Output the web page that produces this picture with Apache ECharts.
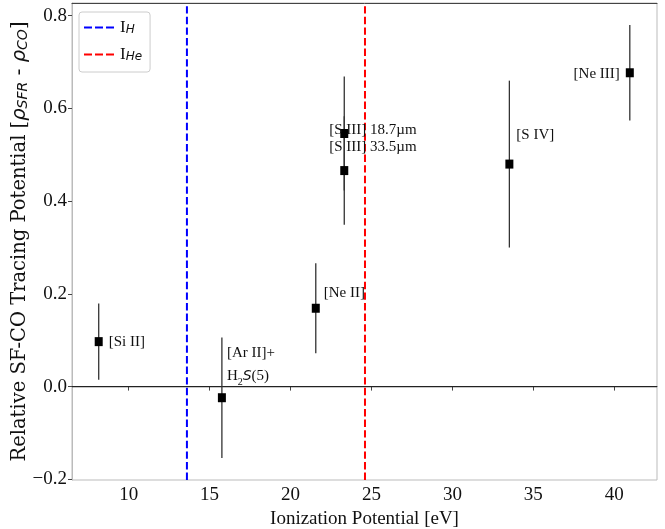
<!DOCTYPE html>
<html>
<head>
<meta charset="utf-8">
<script src="https://cdn.jsdelivr.net/npm/echarts@6/dist/echarts.min.js"></script>
<style>
html, body { margin: 0; padding: 0; background: #fff; }
#chart { width: 665px; height: 529px; }
</style>
</head>
<body>
<div id="chart"></div>
<script>
// 数据
const lineNames = ['[Si II]', '[Ar II]+\nH{sub|2}{it|S}(5)', '[Ne II]', '[S III] 18.7µm', '[S III] 33.5µm', '[S IV]', '[Ne III]'];
const ionPotential = [8.15, 15.76, 21.56, 23.32, 23.32, 33.52, 40.96];
const tracingPotential = [0.097, -0.024, 0.169, 0.546, 0.466, 0.48, 0.677];
const tracingError = [0.082, 0.13, 0.097, 0.123, 0.117, 0.18, 0.103];
const xTicks = [10, 15, 20, 25, 30, 35, 40];
const yTicks = [-0.2, 0, 0.2, 0.4, 0.6, 0.8];
const hIon = 13.6;
const heIon = 24.6;
const xRange = [6.5, 42.64];
const yRange = [-0.2015, 0.8275];

// 标签位置 [dx, dy, align]
const labelPlace = [
    [10, 0, 'left'],
    [5, -33, 'left'],
    [8, -15, 'left'],
    [-15, -3, 'left'],
    [-15, -24, 'left'],
    [7, -29, 'left'],
    [-10, 1, 'right']
];

const serif = 'Liberation Serif';

document.addEventListener('DOMContentLoaded', function() {
    const chart = echarts.init(document.getElementById('chart'));

    const points = ionPotential.map((x, i) => ({
        name: lineNames[i],
        value: [x, tracingPotential[i]],
        label: {
            offset: [labelPlace[i][0], labelPlace[i][1]],
            align: labelPlace[i][2]
        }
    }));
    const bars = ionPotential.map((x, i) => [x, tracingPotential[i], tracingError[i]]);

    const option = {
        animation: false,
        grid: {
            left: 72, right: 8, top: 3, bottom: 49,
            containLabel: false,
            outerBoundsMode: 'none',
            show: true, borderColor: '#bbb', borderWidth: 1
        },
        legend: {
            left: 79, top: 12,
            orient: 'vertical',
            padding: [7, 8, 9, 5],
            itemGap: 10,
            itemWidth: 30, itemHeight: 3,
            backgroundColor: '#fff',
            borderColor: '#ccc', borderWidth: 1, borderRadius: 3,
            icon: 'path://M0,0h8v2h-8z M11,0h8v2h-8z M22,0h8v2h-8z',
            data: [
                { name: 'IH', itemStyle: { color: '#0000ff', borderWidth: 0 } },
                { name: 'IHe', itemStyle: { color: '#ff0000', borderWidth: 0 } }
            ],
            formatter: name => name === 'IH' ? '{m|I}{s|H}' : '{m|I}{s|He}',
            textStyle: {
                padding: [0, 0, 0, 1],
                rich: {
                    m: { fontFamily: serif, fontSize: 17, color: '#111', lineHeight: 17 },
                    s: { fontFamily: 'DejaVu Sans', fontStyle: 'italic', fontSize: 12, color: '#111', verticalAlign: 'bottom', lineHeight: 10 }
                }
            }
        },
        xAxis: [{
            type: 'value',
            min: xRange[0], max: xRange[1],
            name: 'Ionization Potential [eV]',
            nameLocation: 'middle',
            nameGap: 29,
            nameTextStyle: { fontFamily: serif, fontSize: 19, color: '#111' },
            axisLine: { show: true, lineStyle: { color: '#444', width: 1 } },
            axisTick: { show: true, customValues: xTicks, length: 4, lineStyle: { color: '#444' } },
            axisLabel: {
                customValues: xTicks, margin: 6,
                fontFamily: serif, fontSize: 19, color: '#111'
            },
            splitLine: { show: false }
        }, {
            type: 'value',
            position: 'top',
            min: xRange[0], max: xRange[1],
            axisLine: { show: true, lineStyle: { color: '#444', width: 1 } },
            axisTick: { show: false },
            axisLabel: { show: false },
            splitLine: { show: false }
        }],
        yAxis: {
            type: 'value',
            min: yRange[0], max: yRange[1],
            name: 'Relative SF-CO Tracing Potential [{r|ρ}{s|SFR}{b| - }{r|ρ}{s|CO}]',
            nameLocation: 'middle',
            nameGap: 42,
            nameMoveOverlap: false,
            nameTextStyle: {
                fontFamily: 'DejaVu Serif', fontSize: 19.5, color: '#111',
                rich: {
                    r: { fontFamily: 'DejaVu Sans', fontStyle: 'italic', fontSize: 19.5, color: '#111' },
                    s: { fontFamily: 'DejaVu Sans', fontStyle: 'italic', fontSize: 14, color: '#111', verticalAlign: 'bottom', lineHeight: 12 },
                    b: { fontFamily: 'DejaVu Sans', fontSize: 19.5, color: '#111' }
                }
            },
            axisLine: { show: true, lineStyle: { color: '#bbb', width: 1 } },
            axisTick: { show: true, customValues: yTicks, length: 4, lineStyle: { color: '#444' } },
            axisLabel: {
                customValues: yTicks, margin: 5,
                fontFamily: serif, fontSize: 19, color: '#111',
                formatter: v => (v < -1e-9 ? '\u2212' : '') + Math.abs(v).toFixed(1)
            },
            splitLine: { show: false }
        },
        series: [
            {
                name: 'zero',
                type: 'line',
                data: [[xRange[0], 0], [xRange[1], 0]],
                symbol: 'none',
                lineStyle: { color: '#222', width: 1.3 },
                silent: true, z: 1
            },
            {
                name: 'IH',
                type: 'line',
                color: '#0000ff',
                data: [[hIon, yRange[0]], [hIon, yRange[1]]],
                symbol: 'none',
                lineStyle: { color: '#0000ff', width: 2, type: [7.4, 3.2] },
                silent: true, z: 2
            },
            {
                name: 'IHe',
                type: 'line',
                color: '#ff0000',
                data: [[heIon, yRange[0]], [heIon, yRange[1]]],
                symbol: 'none',
                lineStyle: { color: '#ff0000', width: 2, type: [7.4, 3.2] },
                silent: true, z: 2
            },
            {
                name: 'err',
                type: 'custom',
                data: bars,
                z: 3,
                renderItem: function(params, api) {
                    const x = api.value(0), y = api.value(1), e = api.value(2);
                    const p1 = api.coord([x, y - e]);
                    const p2 = api.coord([x, y + e]);
                    return {
                        type: 'line',
                        shape: { x1: p1[0], y1: p1[1], x2: p2[0], y2: p2[1] },
                        style: { stroke: '#333', lineWidth: 1.3 }
                    };
                }
            },
            {
                name: 'lines',
                type: 'scatter',
                data: points,
                symbol: 'rect',
                symbolSize: [8, 9],
                itemStyle: { color: '#000', opacity: 1 },
                z: 4,
                label: {
                    show: true,
                    position: 'inside',
                    verticalAlign: 'middle',
                    formatter: '{b}',
                    fontFamily: serif, fontSize: 15, color: '#111',
                    lineHeight: 23,
                    rich: {
                        sub: { fontFamily: serif, fontSize: 10, color: '#111', verticalAlign: 'bottom', lineHeight: 16 },
                        it: { fontFamily: 'DejaVu Sans', fontStyle: 'italic', fontSize: 14, color: '#111' }
                    }
                }
            }
        ]
    };

    chart.setOption(option);
});
</script>
</body>
</html>
